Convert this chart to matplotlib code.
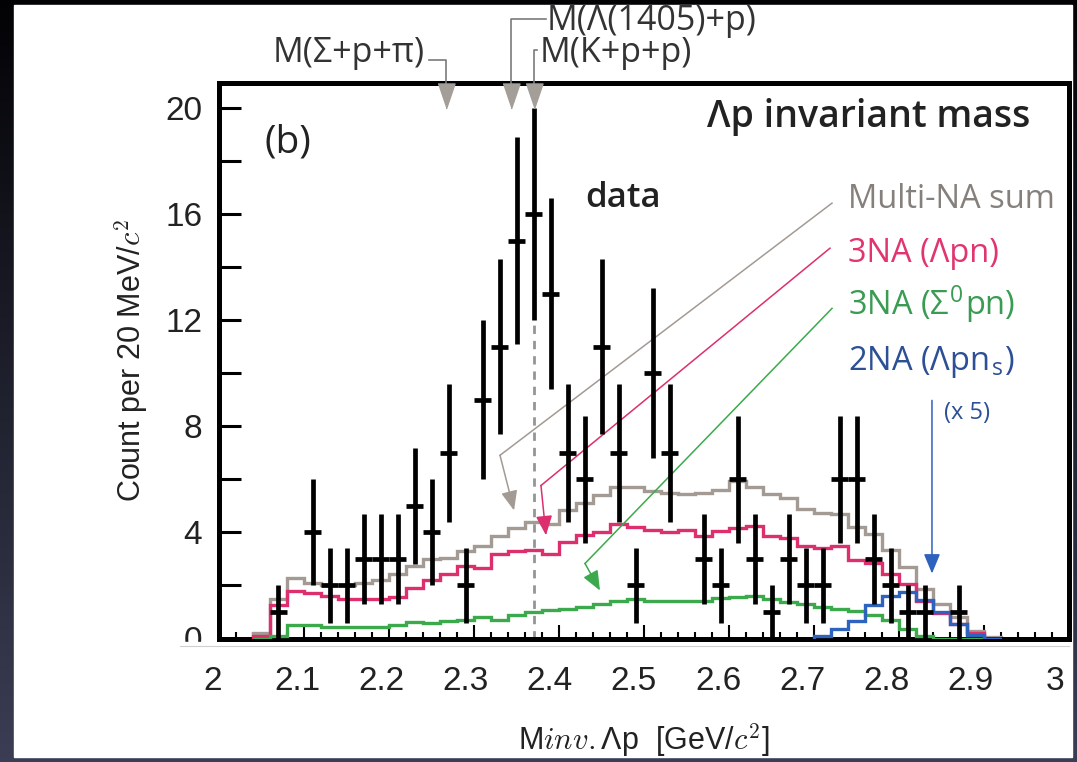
import numpy as np
import matplotlib
matplotlib.use('Agg')
import matplotlib.pyplot as plt
from matplotlib import font_manager
from matplotlib.patches import Rectangle
from matplotlib.transforms import blended_transform_factory, ScaledTranslation

# ---- data: Lambda-p invariant mass, 20 MeV bins ----
bin_centers = np.round(np.arange(2.07, 2.871, 0.02), 2)
counts = [1, 0, 4, 2, 2, 3, 3, 3, 5, 4,
          7, 2, 9, 11, 15, 16, 13, 7, 6, 11,
          7, 2, 10, 7, 0, 3, 2, 6, 3, 1,
          3, 2, 2, 6, 6, 3, 2, 1, 1, 0, 1]
count_err = [1.0, 0, 2.0, 1.4, 1.4, 1.7, 1.7, 1.7, 2.2, 2.0,
             2.6, 1.4, 3.0, 3.3, 3.9, 4.0, 3.6, 2.6, 2.4, 3.3,
             2.6, 1.4, 3.2, 2.6, 0, 1.7, 1.4, 2.4, 1.7, 1.0,
             1.7, 1.4, 1.4, 2.4, 2.4, 1.7, 1.4, 1.0, 1.0, 0, 1.0]

# simulation histograms, bin edges 2.04 .. 2.92
hist_edges = np.round(np.arange(2.04, 2.921, 0.02), 2)
multi_na_sum = [0.2, 1.5, 2.3, 2.1, 2.0, 2.0, 2.1, 2.2, 2.45, 2.75,
                3.0, 3.05, 3.3, 3.5, 3.85, 4.15, 4.4, 4.3, 4.85, 5.1,
                5.4, 5.7, 5.7, 5.55, 5.5, 5.45, 5.5, 5.6, 5.95, 5.7,
                5.45, 5.3, 4.9, 4.75, 4.7, 4.2, 3.95, 3.35, 2.7, 1.85,
                1.3, 0.8, 0.3, 0.05]
na3_lpn = [0.1, 1.25, 1.8, 1.7, 1.6, 1.5, 1.5, 1.5, 1.55, 1.9,
           2.2, 2.45, 2.75, 2.65, 3.2, 3.3, 3.35, 3.2, 3.65, 3.9,
           4.0, 4.3, 4.2, 4.1, 4.0, 4.1, 3.85, 4.05, 4.15, 4.25,
           3.85, 3.8, 3.5, 3.4, 3.5, 2.95, 2.85, 2.45, 2.05, 1.4,
           0.95, 0.55, 0.2, 0.0]
na3_s0pn = [0.0, 0.1, 0.5, 0.5, 0.45, 0.42, 0.42, 0.45, 0.5, 0.62,
            0.6, 0.66, 0.68, 0.82, 0.68, 0.87, 1.0, 1.08, 1.12, 1.18,
            1.3, 1.4, 1.5, 1.43, 1.43, 1.43, 1.43, 1.52, 1.58, 1.6,
            1.48, 1.38, 1.3, 1.2, 1.1, 1.05, 0.88, 0.68, 0.35, 0.1,
            0.0, 0.0, 0.0, 0.0]
# 2NA (x5) is only non-zero from 2.70 GeV on
na2_edges = np.round(np.arange(2.70, 2.921, 0.02), 2)
na2_lpns_x5 = [0.1, 0.35, 0.65, 1.25, 1.6, 1.75, 1.45, 1.0, 0.55, 0.15, 0.0]

# threshold masses marked on top
thresholds = [2.267, 2.343, 2.370]
threshold_labels = ['M(Σ+p+π)', 'M(Λ(1405)+p)', 'M(K+p+p)']

xtick_vals = np.round(np.arange(2.0, 3.01, 0.1), 1)
xtick_labels = ['2', '2.1', '2.2', '2.3', '2.4', '2.5', '2.6', '2.7', '2.8', '2.9', '3']

c_gray = '#a39a94'
c_pink = '#dd2f6e'
c_green = '#3caa4c'
c_blue = '#2d62bd'

names = {f.name for f in font_manager.fontManager.ttflist}
narrow = 'Liberation Sans Narrow' if 'Liberation Sans Narrow' in names else 'Liberation Sans'
tick_size = 27 if narrow == 'Liberation Sans Narrow' else 24
lab_size = 25 if narrow == 'Liberation Sans Narrow' else 22

plt.rcParams['font.family'] = ['Open Sans', 'DejaVu Sans']
plt.rcParams['mathtext.fontset'] = 'cm'

W, H = 1077, 762
fig = plt.figure(figsize=(W / 100, H / 100), dpi=100)


def fx(px):
    return px / W


def fy(py):
    return 1 - py / H


# dark slide background with white panel
bg = fig.add_axes([0, 0, 1, 1], zorder=-10)
g = np.linspace(0, 1, 256)[:, None, None]
top = np.array([0.01, 0.01, 0.02])
bot = np.array([0.23, 0.24, 0.33])
bg.imshow(top + (bot - top) * g, aspect='auto', extent=[0, 1, 0, 1], origin='upper')
bg.add_patch(Rectangle((fx(14), fy(757)), fx(1072) - fx(14), fy(5) - fy(757),
                       transform=bg.transAxes, color='white'))
bg.set_xlim(0, 1)
bg.set_ylim(0, 1)
bg.axis('off')

ax = fig.add_axes([fx(219), fy(638.5), fx(1069) - fx(219), fy(83) - fy(638.5)])
ax.set_facecolor('none')
ax.set_xlim(2, 3)
ax.set_ylim(0, 20.95)

for s in ax.spines.values():
    s.set_linewidth(3.6)
    s.set_color('black')

ax.set_xticks(xtick_vals)
ax.set_xticklabels(xtick_labels)
ax.set_xticks(np.round(np.arange(2.0, 3.001, 0.02), 2), minor=True)
ax.set_yticks([0, 4, 8, 12, 16, 20])
ax.set_yticks([2, 6, 10, 14, 18], minor=True)
ax.tick_params(axis='x', which='major', direction='in', length=10, width=1.5, pad=20,
               labelsize=tick_size, labelcolor='#222222', top=False)
ax.tick_params(axis='x', which='minor', direction='in', length=5, width=1.5, top=False)
ax.tick_params(axis='y', which='both', direction='in', length=16, width=2.2, pad=12,
               labelsize=tick_size, labelcolor='#222222', right=False)
for lab in ax.get_xticklabels() + ax.get_yticklabels():
    lab.set_fontfamily(narrow)
# the scanned tick labels sit slightly left of their ticks
for i, lab in enumerate(ax.get_xticklabels()):
    lab.set_transform(lab.get_transform() +
                      ScaledTranslation(-(6 + 0.8 * i) / 100, 0, fig.dpi_scale_trans))

ax.set_ylabel(r'Count per 20 MeV/$c^2$', fontsize=lab_size, fontfamily=narrow, color='#222222')
ax.yaxis.set_label_coords(-(219 - 131) / 850, 0.5)
ax.yaxis.label.set_va('center')
ax.set_xlabel(r'M$\mathit{inv.}$Λp  [GeV/$c^2$]', fontsize=lab_size, fontfamily=narrow, color='#222222')
ax.xaxis.set_label_coords(0.5, -(740 - 638.5) / 555.5)
ax.xaxis.label.set_va('center')

# dashed line at K+p+p threshold
ax.plot([thresholds[2], thresholds[2]], [0, 20], ls=(0, (3, 2.5)), color='#959595', lw=2.0, zorder=1)

# simulation histograms
ax.stairs(multi_na_sum, hist_edges, color=c_gray, lw=2.4, zorder=2)
ax.stairs(na3_lpn, hist_edges, color=c_pink, lw=2.4, zorder=3)
ax.stairs(na3_s0pn, hist_edges, color=c_green, lw=2.4, zorder=3)
ax.stairs(na2_lpns_x5, na2_edges, color=c_blue, lw=2.4, zorder=3)

# data points
cnt = np.array(counts, dtype=float)
err = np.array(count_err)
m = cnt > 0
ax.errorbar(bin_centers[m], cnt[m], yerr=err[m], xerr=0.01, fmt='none',
            ecolor='black', elinewidth=3.4, capsize=0, zorder=6)

# arrows from labels to curves
arrows = [
    (c_gray, [(2.7212, 16.42), (2.3306, 6.91)], (2.3471, 4.83)),
    (c_pink, [(2.7188, 14.72), (2.3788, 5.77)], (2.3847, 3.89)),
    (c_green, [(2.7212, 12.45), (2.4306, 2.83)], (2.4482, 1.81)),
    (c_blue, [(2.8388, 8.98)], (2.8388, 2.45)),
]
for col, pts, tip in arrows:
    xs = [p[0] for p in pts]
    ys = [p[1] for p in pts]
    ax.plot(xs, ys, color=col, lw=1.1, zorder=4)
    ax.annotate('', xy=tip, xytext=pts[-1],
                arrowprops=dict(arrowstyle='-|>,head_length=0.6,head_width=0.25',
                                color=col, lw=1.1, mutation_scale=20,
                                shrinkA=0, shrinkB=0), zorder=4)

# threshold markers above the frame
blend = blended_transform_factory(ax.transData, fig.transFigure)
tri = [(-0.34, 0.5), (0.34, 0.5), (0.0, -0.5)]
ax.plot(thresholds, [fy(96)] * 3, ls='none', marker=tri, markersize=18,
        color='#a49e99', transform=blend, clip_on=False, zorder=8)
brackets = [(2.247, 60), (2.385, 19), (2.374, 50)]
for xm, (xs, yb) in zip(thresholds, brackets):
    ax.plot([xs, xm, xm], [fy(yb), fy(yb), fy(84)], color='#7a7a7a', lw=1.2,
            transform=blend, clip_on=False, zorder=7)
fig.text(fx(425), fy(53), threshold_labels[0], fontsize=24.5, ha='right', va='center', color='#333333')
fig.text(fx(547), fy(21), threshold_labels[1], fontsize=24.5, ha='left', va='center', color='#333333')
fig.text(fx(540), fy(53), threshold_labels[2], fontsize=24.5, ha='left', va='center', color='#333333')

# labels inside the plot
fig.text(fx(265), fy(153), '(b)', fontsize=28, ha='left', va='baseline', color='#222222')
fig.text(fx(1030), fy(127), 'Λp invariant mass', fontsize=27, fontweight='semibold',
         ha='right', va='baseline', color='#222222')
fig.text(fx(585), fy(207), 'data', fontsize=25, fontweight='semibold', ha='left',
         va='baseline', color='#222222')
fig.text(fx(848), fy(208), 'Multi-NA sum', fontsize=23.5, color='#85807c', va='baseline')
fig.text(fx(848), fy(262), '3NA (Λpn)', fontsize=23.5, color='#e0356f', va='baseline')
fig.text(fx(848), fy(315), r'3NA (Σ$^\mathregular{0}$pn)', fontsize=23.5, color='#3a9b52', va='baseline')
fig.text(fx(848), fy(370), r'2NA (Λpn$_\mathregular{s}$)', fontsize=23.5, color='#2c4f95', va='baseline')
fig.text(fx(944), fy(419), '(x 5)', fontsize=17, color='#2c4f95', va='baseline')

# the clipped "0" label and thin line under the frame, as in the scan
fig.add_artist(Rectangle((fx(150), fy(662)), fx(214) - fx(150), fy(642) - fy(662),
                         transform=fig.transFigure, color='white', zorder=5))
fig.add_artist(plt.Line2D([fx(180), fx(1069)], [fy(646), fy(646)], transform=fig.transFigure,
                          color='#cfcfcf', lw=0.8, zorder=5))

fig.savefig('out.png', dpi=100)
